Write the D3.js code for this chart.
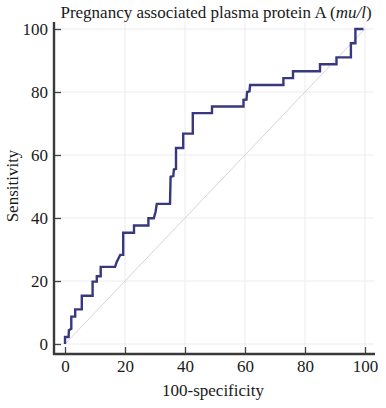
<!DOCTYPE html>
<html>
<head>
<meta charset="utf-8">
<script src="https://cdn.jsdelivr.net/npm/d3@7"></script>
<style>
  body { margin: 0; background: #fff; }
  svg { display: block; }
  svg text { font-family: "Liberation Serif", "Times New Roman", Times, "DejaVu Serif", serif !important; fill: #1a1a1a; }
</style>
</head>
<body>
<div id="chart"></div>
<script>
// ROC curve vertices (100-specificity, sensitivity)
var fpr = [0, 0, 1.2, 1.3, 2.1, 2.1, 3.4, 3.4, 5.6, 5.6, 9.2, 9.2, 10.6, 10.6, 11.9, 11.9,
  16.7, 17.2, 18.4, 19.4, 19.4, 23, 23, 27.8, 27.8, 29.6, 30.2, 30.6, 35, 35.2, 36.1, 36.3,
  37, 37, 39.4, 39.4, 42.6, 42.6, 49, 49, 59.5, 59.5, 60.5, 60.7, 61.5, 61.7, 72.8, 72.8,
  76, 76, 85, 85, 90.5, 90.5, 95.3, 95.3, 96.8, 96.8, 99.5];
var tpr = [0, 2.2, 2.2, 4.4, 4.8, 8.7, 8.7, 11, 11, 15.3, 15.3, 19.8, 19.8, 21.5, 21.5, 24.5,
  24.5, 26, 28.3, 28.3, 35.3, 35.3, 37.6, 37.6, 39.9, 39.9, 42, 44.5, 44.5, 53.1, 53.3, 55.4,
  55.6, 62.2, 62.2, 66.8, 66.8, 73.3, 73.3, 75.4, 75.4, 77.5, 77.6, 80, 80.2, 82.2, 82.2, 84.4,
  84.4, 86.6, 86.6, 88.8, 88.8, 91, 91, 95.5, 95.5, 100, 100];

var xTicks = [0, 20, 40, 60, 80, 100];
var yTicks = [0, 20, 40, 60, 80, 100];
var minorTicks = d3.range(0, 101, 5);

var width = 386, height = 408;
var serif = "'Liberation Serif', 'Times New Roman', Times, 'DejaVu Serif', serif";

var svg = d3.select("#chart").append("svg")
  .attr("width", width)
  .attr("height", height);

var x = d3.scaleLinear().domain([0, 100]).range([65, 365]);
var y = d3.scaleLinear().domain([0, 100]).range([344, 29]);

// grid
svg.append("g").selectAll("line.vg").data(xTicks.slice(1)).enter().append("line")
  .attr("x1", function(d) { return x(d); }).attr("x2", function(d) { return x(d); })
  .attr("y1", 22).attr("y2", 353)
  .attr("stroke", "#ececf0").attr("stroke-width", 1);
svg.append("g").selectAll("line.hg").data(yTicks).enter().append("line")
  .attr("x1", 55).attr("x2", 374)
  .attr("y1", function(d) { return y(d); }).attr("y2", function(d) { return y(d); })
  .attr("stroke", "#ececf0").attr("stroke-width", 1);

// reference diagonal
svg.append("line")
  .attr("x1", x(0)).attr("y1", y(0))
  .attr("x2", x(100)).attr("y2", y(100))
  .attr("stroke", "#d6d6d6").attr("stroke-width", 1);

// ROC curve
var pts = fpr.map(function(d, i) { return [d, tpr[i]]; });
var line = d3.line().x(function(d) { return x(d[0]); }).y(function(d) { return y(d[1]); });
svg.append("path")
  .datum(pts)
  .attr("d", line)
  .attr("fill", "none")
  .attr("stroke", "#38387e")
  .attr("stroke-width", 2.4)
  .attr("stroke-linejoin", "miter");

// axes
var xAxisG = svg.append("g").attr("transform", "translate(0,354)");
xAxisG.call(d3.axisBottom(x).tickValues(minorTicks).tickSize(-4).tickFormat(""));
xAxisG.call(d3.axisBottom(x).tickValues(xTicks).tickSize(-7).tickPadding(6));
var yAxisG = svg.append("g").attr("transform", "translate(54,0)");
yAxisG.call(d3.axisLeft(y).tickValues(minorTicks).tickSize(-4).tickFormat(""));
yAxisG.call(d3.axisLeft(y).tickValues(yTicks).tickSize(-7).tickPadding(6));

svg.selectAll("g").attr("font-family", serif);
svg.selectAll(".domain").remove();
svg.selectAll(".tick line").attr("stroke", "#444").attr("stroke-width", 1.3);
svg.selectAll(".tick text")
  .attr("font-family", serif)
  .attr("font-size", 17)
  .attr("fill", "#1a1a1a");

svg.append("line").attr("x1", 54).attr("x2", 54).attr("y1", 22).attr("y2", 355)
  .attr("stroke", "#3a3a3a").attr("stroke-width", 2.4);
svg.append("line").attr("x1", 53).attr("x2", 375).attr("y1", 354).attr("y2", 354)
  .attr("stroke", "#3a3a3a").attr("stroke-width", 2.4);

// titles
var title = svg.append("text")
  .attr("x", 216).attr("y", 18)
  .attr("text-anchor", "middle")
  .attr("font-family", serif)
  .attr("font-size", 17);
title.append("tspan").text("Pregnancy associated plasma protein A (");
title.append("tspan").attr("font-style", "italic").text("mu/l");
title.append("tspan").text(")");

svg.append("text")
  .attr("x", 213).attr("y", 396)
  .attr("text-anchor", "middle")
  .attr("font-family", serif)
  .attr("font-size", 17)
  .text("100-specificity");

svg.append("text")
  .attr("transform", "translate(18,186) rotate(-90)")
  .attr("text-anchor", "middle")
  .attr("font-family", serif)
  .attr("font-size", 17)
  .text("Sensitivity");
</script>
</body>
</html>
